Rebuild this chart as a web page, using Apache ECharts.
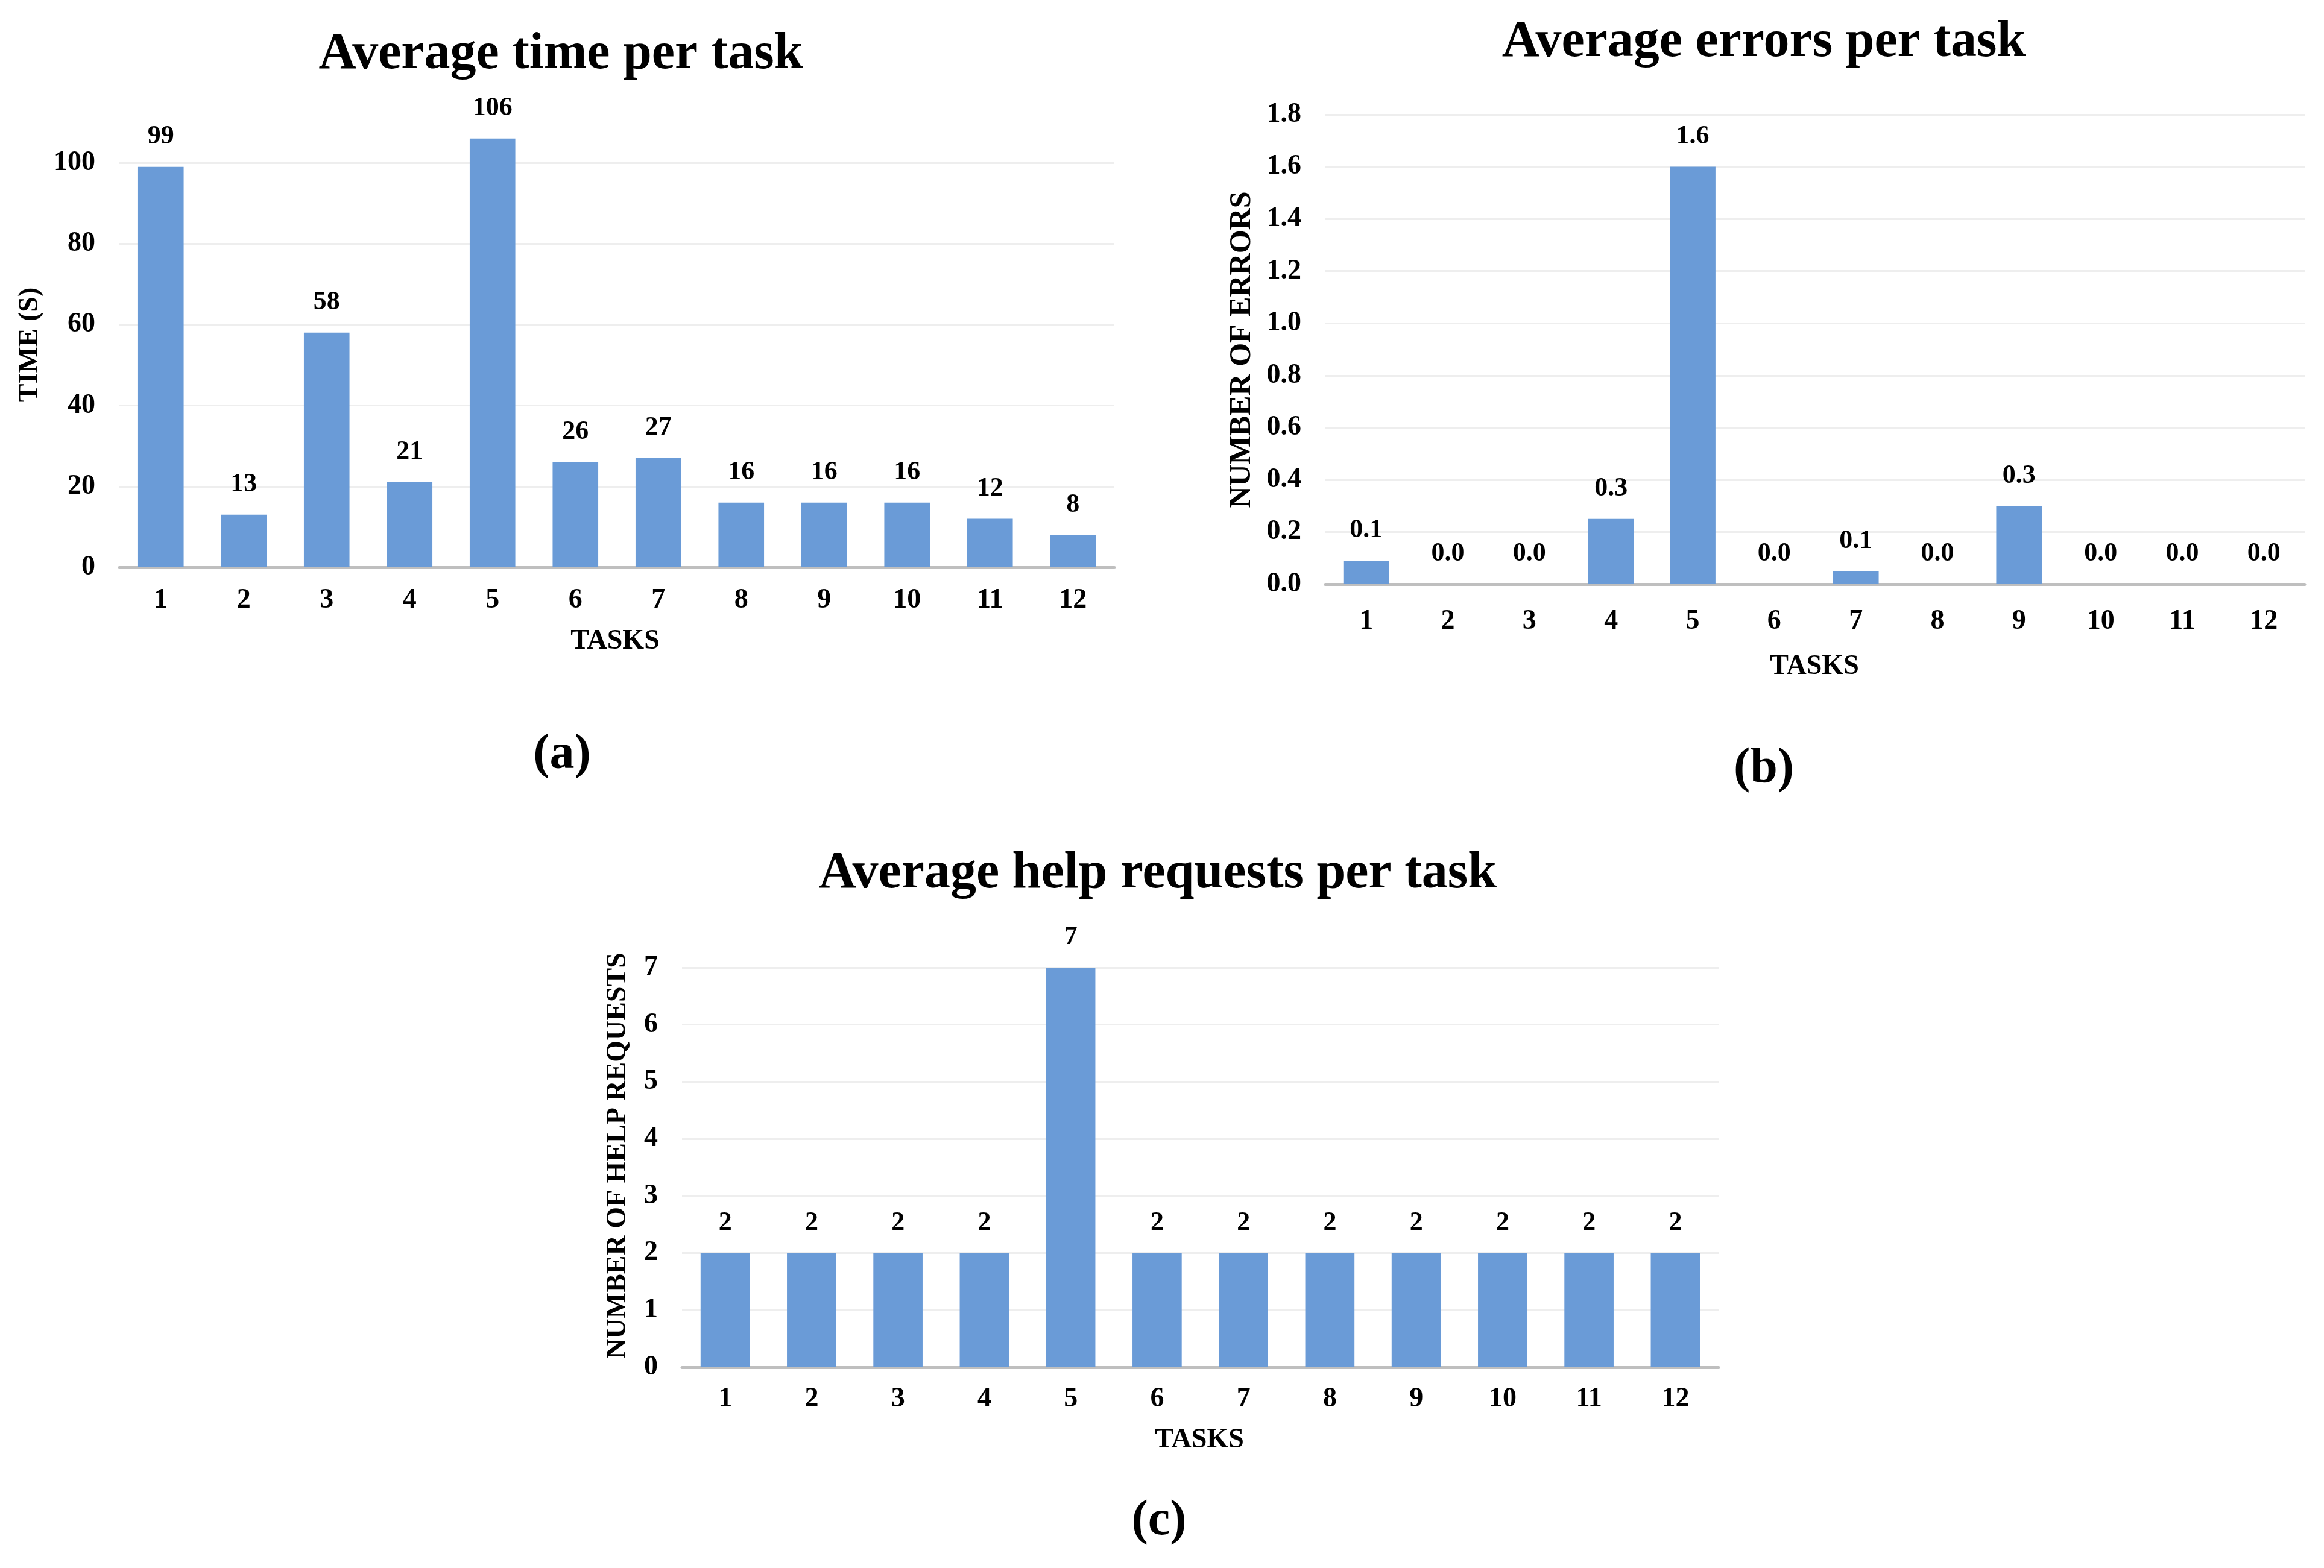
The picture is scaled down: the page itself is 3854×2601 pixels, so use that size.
<!DOCTYPE html>
<html>
<head>
<meta charset="utf-8">
<script src="https://cdn.jsdelivr.net/npm/echarts@6/dist/echarts.min.js"></script>
<style>
  html, body { margin: 0; padding: 0; background: #fff; }
  #chart { width: 3854px; height: 2601px; }
</style>
</head>
<body>
<div id="chart"></div>
<script>
// ---- data ----
const tasks = ['1','2','3','4','5','6','7','8','9','10','11','12'];
const timeValues = [99, 13, 58, 21, 106, 26, 27, 16, 16, 16, 12, 8];
const errorValues = [0.09, 0, 0, 0.25, 1.6, 0, 0.05, 0, 0.3, 0, 0, 0];
const helpValues = [2, 2, 2, 2, 7, 2, 2, 2, 2, 2, 2, 2];
const titles = ['Average time per task', 'Average errors per task', 'Average help requests per task'];
const yNames = ['TIME (S)', 'NUMBER OF ERRORS', 'NUMBER OF HELP REQUESTS'];
const xName = 'TASKS';
const captions = ['(a)', '(b)', '(c)'];

const FONT = '"Liberation Serif", "Times New Roman", serif';
const BAR = '#6a9bd7';
const GRIDC = '#eeeeee';
const AXISC = '#bfbfbf';

const chart = echarts.init(document.getElementById('chart'));

const grids = [
  { left: 198, top: 203, width: 1650, height: 738 },
  { left: 2198, top: 190, width: 1624, height: 779 },
  { left: 1131, top: 1605, width: 1719, height: 663 }
];
const xMargins = [32, 39, 30];
const yAxesCfg = [
  { min: 0, max: 110, interval: 20, fmt: v => String(v), lines: [GRIDC, GRIDC, GRIDC, GRIDC, GRIDC, GRIDC, 'rgba(0,0,0,0)'], showMax: false },
  { min: 0, max: 1.8, interval: 0.2, fmt: v => v.toFixed(1), lines: [GRIDC], showMax: true },
  { min: 0, max: 7, interval: 1, fmt: v => String(v), lines: [GRIDC], showMax: true }
];
const seriesData = [timeValues, errorValues, helpValues];
const labelFmt = [v => String(Math.round(v)), v => v.toFixed(1), v => String(Math.round(v))];
const barWidths = ['55%', '56%', '57%'];

const xAxis = grids.map((g, i) => ({
  type: 'category', gridIndex: i, data: tasks,
  axisLine: { show: true, lineStyle: { color: AXISC, width: 5 } },
  axisTick: { show: false },
  axisLabel: { color: '#000', fontFamily: FONT, fontWeight: 'bold', fontSize: 46, margin: xMargins[i] }
}));
const yAxis = yAxesCfg.map((c, i) => ({
  type: 'value', gridIndex: i, min: c.min, max: c.max, interval: c.interval,
  axisLine: { show: false }, axisTick: { show: false },
  splitLine: { show: true, lineStyle: { color: c.lines, width: 3 } },
  axisLabel: { color: '#000', fontFamily: FONT, fontWeight: 'bold', fontSize: 46, margin: 40,
    showMaxLabel: c.showMax, formatter: c.fmt }
}));
const series = seriesData.map((d, i) => ({
  type: 'bar', xAxisIndex: i, yAxisIndex: i, data: d, barWidth: barWidths[i],
  itemStyle: { color: BAR }, silent: true,
  label: { show: true, position: 'top', distance: 28, color: '#000', fontFamily: FONT,
    fontWeight: 'bold', fontSize: 44, formatter: p => labelFmt[i](p.value) }
}));

// text placement (centres)
const titlePos = [[930, 91], [2925, 71], [1920, 1450]];
const capPos = [[932, 1253], [2925, 1276], [1922, 2524]];
const yNamePos = [[50, 572], [2060, 580], [1025, 1917]];
const xNamePos = [[1020, 1064], [3009, 1106], [1989, 2389]];
const yNameSize = [46, 50, 46];

const graphic = [];
for (let i = 0; i < 3; i++) {
  graphic.push({ type: 'text', x: titlePos[i][0], y: titlePos[i][1],
    style: { text: titles[i], fill: '#000', font: 'bold 86px ' + FONT, align: 'center', verticalAlign: 'middle' } });
  graphic.push({ type: 'text', x: capPos[i][0], y: capPos[i][1],
    style: { text: captions[i], fill: '#000', font: 'bold 82px ' + FONT, align: 'center', verticalAlign: 'middle' } });
  graphic.push({ type: 'text', x: yNamePos[i][0], y: yNamePos[i][1], rotation: Math.PI / 2,
    style: { text: yNames[i], fill: '#000', font: 'bold ' + yNameSize[i] + 'px ' + FONT, align: 'center', verticalAlign: 'middle' } });
  graphic.push({ type: 'text', x: xNamePos[i][0], y: xNamePos[i][1],
    style: { text: xName, fill: '#000', font: 'bold 46px ' + FONT, align: 'center', verticalAlign: 'middle' } });
}

chart.setOption({
  animation: false,
  backgroundColor: '#fff',
  grid: grids,
  xAxis: xAxis,
  yAxis: yAxis,
  series: series,
  graphic: graphic
});
</script>
</body>
</html>
